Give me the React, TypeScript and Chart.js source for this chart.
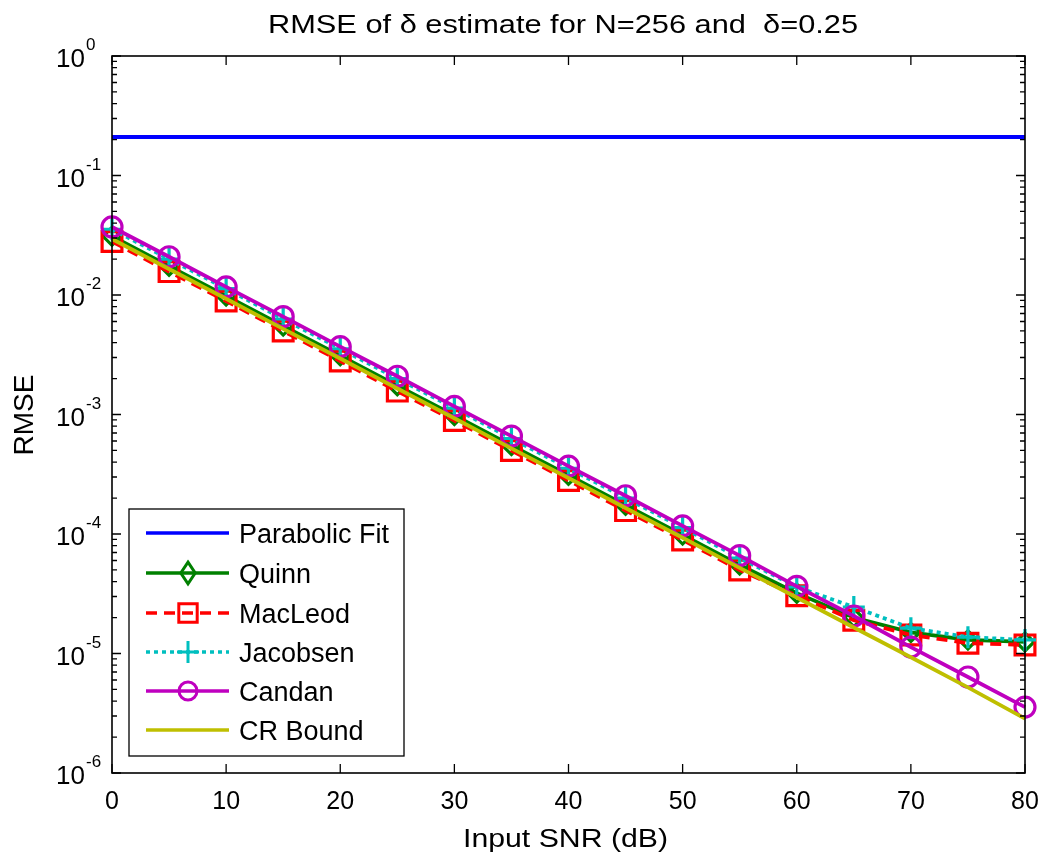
import React, { useEffect, useRef } from "react";
import { Chart, registerables } from "chart.js";

Chart.register(...registerables);

const snr = [0, 5, 10, 15, 20, 25, 30, 35, 40, 45, 50, 55, 60, 65, 70, 75, 80];
const parabolicFit = [0.21, 0.21, 0.21, 0.21, 0.21, 0.21, 0.21, 0.21, 0.21, 0.21, 0.21, 0.21, 0.21, 0.21, 0.21, 0.21, 0.21];
const quinn = [0.031, 0.0174, 0.0098, 0.0055, 0.0031, 0.00174, 0.00098, 0.00055, 0.00031, 0.000174, 9.8e-5, 5.5e-5, 3.2e-5, 2.0e-5, 1.5e-5, 1.3e-5, 1.25e-5];
const macLeod = [0.028, 0.0157, 0.0089, 0.005, 0.0028, 0.00157, 0.00089, 0.0005, 0.00028, 0.000157, 8.9e-5, 5.0e-5, 3.05e-5, 1.9e-5, 1.43e-5, 1.22e-5, 1.18e-5];
const jacobsen = [0.0355, 0.02, 0.0113, 0.0063, 0.00355, 0.002, 0.00113, 0.00063, 0.000355, 0.0002, 0.000113, 6.3e-5, 3.6e-5, 2.45e-5, 1.63e-5, 1.37e-5, 1.3e-5];
const candan = [0.0371, 0.0209, 0.0117, 0.0066, 0.0037, 0.00209, 0.00117, 0.00066, 0.00037, 0.000209, 0.000117, 6.6e-5, 3.65e-5, 2.06e-5, 1.13e-5, 6.36e-6, 3.56e-6];
const crBound = [0.0294, 0.0165, 0.0093, 0.0052, 0.00294, 0.00165, 0.00093, 0.00052, 0.000294, 0.000165, 9.3e-5, 5.2e-5, 2.94e-5, 1.65e-5, 9.3e-6, 5.2e-6, 2.85e-6];

const xTicks = [0, 10, 20, 30, 40, 50, 60, 70, 80];
const yExponents = [0, -1, -2, -3, -4, -5, -6];
const titleText = "RMSE of \u03b4 estimate for N=256 and  \u03b4=0.25";
const xLabel = "Input SNR (dB)";
const yLabel = "RMSE";

const FONT = "'Liberation Sans', Arial, sans-serif";

type Series = {
  label: string;
  data: number[];
  color: string;
  dash: number[];
  style: string | false;
  radius: number;
  order: number;
};

const series: Series[] = [
  { label: "Parabolic Fit", data: parabolicFit, color: "#0000FF", dash: [], style: false, radius: 0, order: 6 },
  { label: "Quinn", data: quinn, color: "#008000", dash: [], style: "rectRot", radius: 9, order: 5 },
  { label: "MacLeod", data: macLeod, color: "#FF0000", dash: [11, 7], style: "rect", radius: 14, order: 4 },
  { label: "Jacobsen", data: jacobsen, color: "#00BFBF", dash: [4, 4], style: "cross", radius: 11, order: 3 },
  { label: "Candan", data: candan, color: "#BF00BF", dash: [], style: "circle", radius: 10, order: 2 },
  { label: "CR Bound", data: crBound, color: "#BFBF00", dash: [], style: false, radius: 0, order: 1 },
];

function drawMarker(ctx: CanvasRenderingContext2D, style: string | false, x: number, y: number, r: number) {
  if (!style) return;
  ctx.beginPath();
  if (style === "circle") {
    ctx.arc(x, y, r, 0, Math.PI * 2);
  } else if (style === "rect") {
    const s = Math.SQRT1_2 * r;
    ctx.rect(x - s, y - s, 2 * s, 2 * s);
  } else if (style === "rectRot") {
    ctx.moveTo(x, y - r * 1.2);
    ctx.lineTo(x + r * 0.8, y);
    ctx.lineTo(x, y + r * 1.2);
    ctx.lineTo(x - r * 0.8, y);
    ctx.closePath();
  } else if (style === "cross") {
    ctx.moveTo(x - r, y);
    ctx.lineTo(x + r, y);
    ctx.moveTo(x, y - r);
    ctx.lineTo(x, y + r);
  }
  ctx.stroke();
}

// draw text horizontally stretched to a given width (start at x0)
function fillFit(ctx: CanvasRenderingContext2D, text: string, x0: number, baseline: number, width: number, size: number) {
  ctx.save();
  ctx.font = `${size}px ${FONT}`;
  ctx.textAlign = "left";
  ctx.textBaseline = "alphabetic";
  const w = ctx.measureText(text).width;
  ctx.translate(x0, baseline);
  ctx.scale(width / w, 1);
  ctx.fillText(text, 0, 0);
  ctx.restore();
}

const decorPlugin = {
  id: "matlabDecor",
  afterDatasetsDraw(chart: any) {
    const ctx: CanvasRenderingContext2D = chart.ctx;
    const { left, right, top, bottom } = chart.chartArea;
    const xs = chart.scales.x;
    const ys = chart.scales.y;
    ctx.save();
    // axes box
    ctx.strokeStyle = "#000";
    ctx.lineWidth = 1.6;
    ctx.setLineDash([]);
    ctx.strokeRect(left, top, right - left, bottom - top);

    // y ticks
    ctx.lineWidth = 1.3;
    for (const e of yExponents) {
      const v = Math.pow(10, e);
      const py = ys.getPixelForValue(v);
      ctx.beginPath();
      ctx.moveTo(left, py);
      ctx.lineTo(left + 9, py);
      ctx.moveTo(right, py);
      ctx.lineTo(right - 9, py);
      ctx.stroke();
      if (e < 0) {
        for (let k = 2; k <= 9; k++) {
          const pm = ys.getPixelForValue(k * v);
          ctx.beginPath();
          ctx.moveTo(left, pm);
          ctx.lineTo(left + 5, pm);
          ctx.moveTo(right, pm);
          ctx.lineTo(right - 5, pm);
          ctx.stroke();
        }
      }
    }
    // x ticks
    for (const t of xTicks) {
      const px = xs.getPixelForValue(t);
      ctx.beginPath();
      ctx.moveTo(px, bottom);
      ctx.lineTo(px, bottom - 9);
      ctx.moveTo(px, top);
      ctx.lineTo(px, top + 9);
      ctx.stroke();
    }

    // tick labels
    ctx.fillStyle = "#000";
    ctx.font = `25px ${FONT}`;
    ctx.textAlign = "center";
    ctx.textBaseline = "alphabetic";
    for (const t of xTicks) {
      ctx.fillText(String(t), xs.getPixelForValue(t), bottom + 36);
    }
    for (const e of yExponents) {
      const py = ys.getPixelForValue(Math.pow(10, e));
      ctx.font = `26px ${FONT}`;
      ctx.textAlign = "right";
      ctx.textBaseline = "alphabetic";
      ctx.fillText("10", 85, py + 11);
      ctx.font = `17px ${FONT}`;
      ctx.textAlign = "left";
      ctx.fillText(String(e), 86, py - 6);
    }

    // title & axis labels
    fillFit(ctx, titleText, 268, 33, 590, 26);
    fillFit(ctx, xLabel, 463, 847, 205, 26);
    ctx.save();
    ctx.font = `28px ${FONT}`;
    ctx.textAlign = "center";
    ctx.textBaseline = "alphabetic";
    ctx.translate(33, 415);
    ctx.rotate(-Math.PI / 2);
    ctx.fillText(yLabel, 0, 0);
    ctx.restore();

    // legend
    const lx = 129, ly = 509, lw = 275, lh = 247;
    ctx.fillStyle = "#fff";
    ctx.fillRect(lx, ly, lw, lh);
    ctx.strokeStyle = "#000";
    ctx.lineWidth = 1.3;
    ctx.strokeRect(lx, ly, lw, lh);
    const rowY = [533, 573, 613, 652, 691, 730];
    series.forEach((s, i) => {
      const y = rowY[i];
      ctx.strokeStyle = s.color;
      ctx.lineWidth = 3.5;
      ctx.setLineDash(s.dash);
      ctx.beginPath();
      ctx.moveTo(146, y);
      ctx.lineTo(229, y);
      ctx.stroke();
      ctx.setLineDash([]);
      ctx.lineWidth = 3;
      drawMarker(ctx, s.style, 188, y, s.style === "rect" ? 13 : s.style === "circle" ? 9 : s.radius);
      ctx.fillStyle = "#000";
      ctx.font = `27px ${FONT}`;
      ctx.textAlign = "left";
      ctx.textBaseline = "alphabetic";
      ctx.fillText(s.label, 239, y + 10);
    });
    ctx.restore();
  },
};

export default function App() {
  const ref = useRef<HTMLCanvasElement | null>(null);
  useEffect(() => {
    if (!ref.current) return;
    const chart = new Chart(ref.current, {
      type: "line",
      data: {
        datasets: series.map((s) => ({
          label: s.label,
          data: snr.map((x, i) => ({ x, y: s.data[i] })),
          borderColor: s.color,
          backgroundColor: "rgba(0,0,0,0)",
          borderWidth: 3.8,
          borderDash: s.dash,
          pointStyle: s.style === false ? "circle" : (s.style as any),
          pointRadius: s.radius,
          pointBorderWidth: 3.2,
          pointBorderColor: s.color,
          pointBackgroundColor: "rgba(0,0,0,0)",
          fill: false,
          tension: 0,
          order: s.order,
          clip: false as any,
        })),
      },
      options: {
        animation: false,
        responsive: false,
        maintainAspectRatio: false,
        devicePixelRatio: 1,
        layout: { padding: { left: 112, right: 27, top: 56, bottom: 88 } },
        plugins: { legend: { display: false }, tooltip: { enabled: false }, title: { display: false } },
        scales: {
          x: { type: "linear", min: 0, max: 80, display: false },
          y: { type: "logarithmic", min: 1e-6, max: 1, display: false },
        },
      },
      plugins: [decorPlugin],
    });
    return () => chart.destroy();
  }, []);
  return (
    <div style={{ position: "fixed", left: 0, top: 0, width: 1052, height: 861, background: "#fff" }}>
      <canvas ref={ref} width={1052} height={861} style={{ width: 1052, height: 861 }} />
    </div>
  );
}
